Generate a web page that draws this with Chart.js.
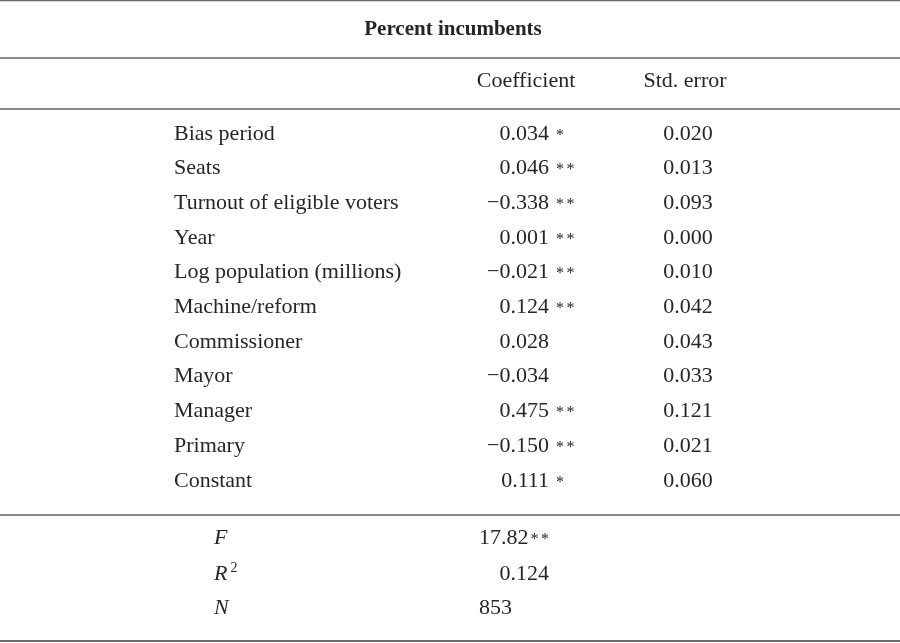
<!DOCTYPE html>
<html><head><meta charset="utf-8">
<script src="https://cdn.jsdelivr.net/npm/chart.js@4/dist/chart.umd.min.js"></script>
<style>html,body{margin:0;padding:0;background:#fff}#wrap{width:900px;height:643px;position:relative}</style>
</head><body><div id="wrap"><canvas id="c"></canvas></div>
<script>
// ---- data ----
const tableTitle = "Percent incumbents";
const columnHeaders = ["Coefficient", "Std. error"];
const variables = ["Bias period","Seats","Turnout of eligible voters","Year","Log population (millions)","Machine/reform","Commissioner","Mayor","Manager","Primary","Constant"];
const coefficients = [0.034, 0.046, -0.338, 0.001, -0.021, 0.124, 0.028, -0.034, 0.475, -0.150, 0.111];
const significance = ["*","**","**","**","**","**","","","**","**","*"];
const stdErrors = [0.020, 0.013, 0.093, 0.000, 0.010, 0.042, 0.043, 0.033, 0.121, 0.021, 0.060];
const statLabels = ["F", "R", "N"];
const statSuperscripts = ["", "2", ""];
const statValues = ["17.82", "0.124", "853"];
const statStars = ["**", "", ""];
const statAlignToCoef = [false, true, false];

// ---- layout (row index space, column positions) ----
const rowTitle = -3.0, rowHeader = -1.5;
const rules = [-3.8, -2.13, -0.66, 11.04, 14.67];
const statRows = [11.67, 12.68, 13.66];
const colLabel = 174, colCoef = 549, colStd = 688, colStatLabel = 214, colStatValue = 479, colTitle = 453, colHdr1 = 526, colHdr2 = 685;

const fmt = v => (v < 0 ? "\u2212" : "") + Math.abs(v).toFixed(3);
const idx = variables.map((_, i) => i);

const datasets = [
  { id: 'title', data: [{x: colTitle, y: rowTitle}] },
  { id: 'hdr', data: [{x: colHdr1, y: rowHeader}, {x: colHdr2, y: rowHeader}] },
  { id: 'label', data: idx.map(i => ({x: colLabel, y: i})) },
  { id: 'coef', data: idx.map(i => ({x: colCoef, y: i})) },
  { id: 'std', data: idx.map(i => ({x: colStd, y: i})) },
  { id: 'slabel', data: statRows.map(r => ({x: colStatLabel, y: r})) },
  { id: 'svalue', data: statRows.map((r, i) => ({x: statAlignToCoef[i] ? colCoef : colStatValue, y: r})) }
].map(d => Object.assign(d, { pointRadius: 0, showLine: false }));

rules.forEach((r, k) => datasets.push({
  id: 'rule' + k, data: [{x: 0, y: r}, {x: 900, y: r}],
  showLine: true, pointRadius: 0, borderColor: k === 0 || k === 4 ? '#6a6a6a' : '#8c8c8c', borderWidth: 2, clip: false
}));

const SERIF = '"Liberation Serif", "Times New Roman", serif';
const INK = '#262626';
function drawStars(ctx, s, x, y) {
  ctx.font = '16px ' + SERIF; ctx.textAlign = 'left';
  for (let k = 0; k < s.length; k++) ctx.fillText('*', x + k * 10.5, y);
}
const textPlugin = {
  id: 'tableText',
  afterDatasetsDraw(chart) {
    const ctx = chart.ctx;
    const pts = id => chart.getDatasetMeta(chart.data.datasets.findIndex(d => d.id === id)).data;
    const off = 7.5;
    ctx.save();
    ctx.fillStyle = INK;
    ctx.textBaseline = 'alphabetic';
    // title
    ctx.font = 'bold 21px ' + SERIF; ctx.textAlign = 'center';
    pts('title').forEach(p => ctx.fillText(tableTitle, p.x, p.y + off));
    ctx.font = '22px ' + SERIF;
    pts('hdr').forEach((p, i) => ctx.fillText(columnHeaders[i], p.x, p.y + off));
    // labels
    ctx.textAlign = 'left';
    pts('label').forEach((p, i) => ctx.fillText(variables[i], p.x, p.y + off));
    // coefficients
    pts('coef').forEach((p, i) => {
      ctx.font = '22px ' + SERIF; ctx.textAlign = 'right';
      ctx.fillText(fmt(coefficients[i]), p.x, p.y + off);
      if (significance[i]) drawStars(ctx, significance[i], p.x + 7, p.y + off);
    });
    ctx.font = '22px ' + SERIF; ctx.textAlign = 'center';
    pts('std').forEach((p, i) => ctx.fillText(fmt(stdErrors[i]), p.x, p.y + off));
    // stats
    ctx.textAlign = 'left';
    pts('slabel').forEach((p, i) => {
      ctx.font = 'italic 22px ' + SERIF; ctx.textAlign = 'left';
      ctx.fillText(statLabels[i], p.x, p.y + off);
      if (statSuperscripts[i]) {
        const w = ctx.measureText(statLabels[i]).width;
        ctx.font = '14px ' + SERIF;
        ctx.fillText(statSuperscripts[i], p.x + w + 3, p.y + off - 8);
      }
    });
    pts('svalue').forEach((p, i) => {
      ctx.font = '22px ' + SERIF;
      const w = ctx.measureText(statValues[i]).width;
      const x = statAlignToCoef[i] ? p.x - w : p.x;
      ctx.textAlign = 'left';
      ctx.fillText(statValues[i], x, p.y + off);
      if (statStars[i]) drawStars(ctx, statStars[i], x + w + 2, p.y + off);
    });
    ctx.restore();
  }
};

new Chart(document.getElementById('c'), {
  type: 'scatter',
  data: { datasets },
  options: {
    responsive: true, maintainAspectRatio: false, animation: false,
    layout: { padding: 0 },
    events: [],
    plugins: { legend: { display: false }, tooltip: { enabled: false } },
    scales: {
      x: { type: 'linear', min: 0, max: 900, display: false },
      y: { type: 'linear', min: -3.804, max: 14.726, reverse: true, display: false }
    }
  },
  plugins: [textPlugin]
});
</script>
</body></html>
